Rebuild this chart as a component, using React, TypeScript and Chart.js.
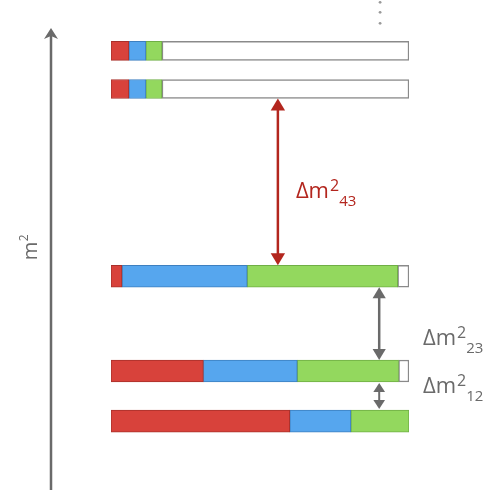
import React, { useEffect, useRef } from "react";
import { Chart, registerables } from "chart.js";

Chart.register(...registerables);

// mass-squared levels (bottom to top)
const levels = [12.8, 23.7, 44.3, 85, 93.3];
// flavour fractions of each mass state
const redFrac = [0.6, 0.31, 0.037, 0.06, 0.06];
const blueFrac = [0.205, 0.315, 0.42, 0.057, 0.057];
const greenFrac = [0.195, 0.34, 0.505, 0.054, 0.054];
const rowGroup = ["low", "low", "low", "high", "high"];
const splitLabels = ["Δm", "2", "43"];
const lowLabels = [
  ["Δm", "2", "23"],
  ["Δm", "2", "12"],
];
const axisLabel = "m";

const RED = "#d8423b";
const BLUE = "#56a6ee";
const GREEN = "#93d85e";
const WHITE = "#ffffff";
const FONT = "'Open Sans', 'DejaVu Sans', sans-serif";

function segs(group: string) {
  const out: { red: any[]; blue: any[]; green: any[]; white: any[] } = { red: [], blue: [], green: [], white: [] };
  levels.forEach((lv, i) => {
    if (rowGroup[i] !== group) return;
    const r = redFrac[i];
    const b = r + blueFrac[i];
    const g = b + greenFrac[i];
    out.red.push({ y: lv, x: [0, r] });
    out.blue.push({ y: lv, x: [r, b] });
    out.green.push({ y: lv, x: [b, g] });
    if (g < 0.999) out.white.push({ y: lv, x: [g, 1] });
  });
  return out;
}

function drawDoubleArrow(ctx: CanvasRenderingContext2D, x: number, y1: number, y2: number, color: string, head: number, width: number, spread = 0.6) {
  ctx.save();
  ctx.strokeStyle = color;
  ctx.fillStyle = color;
  ctx.lineWidth = width;
  ctx.beginPath();
  ctx.moveTo(x, y1 + head * 0.8);
  ctx.lineTo(x, y2 - head * 0.8);
  ctx.stroke();
  ctx.beginPath();
  ctx.moveTo(x, y1);
  ctx.lineTo(x - head * spread, y1 + head);
  ctx.lineTo(x + head * spread, y1 + head);
  ctx.closePath();
  ctx.fill();
  ctx.beginPath();
  ctx.moveTo(x, y2);
  ctx.lineTo(x - head * spread, y2 - head);
  ctx.lineTo(x + head * spread, y2 - head);
  ctx.closePath();
  ctx.fill();
  ctx.restore();
}

function drawDm(ctx: CanvasRenderingContext2D, parts: string[], x: number, y: number, color: string) {
  ctx.save();
  ctx.fillStyle = color;
  ctx.textBaseline = "alphabetic";
  ctx.textAlign = "left";
  ctx.font = "22px " + FONT;
  ctx.fillText(parts[0], x, y);
  const w = ctx.measureText(parts[0]).width;
  ctx.font = "16px " + FONT;
  ctx.fillText(parts[1], x + w + 1, y - 7);
  const w2 = ctx.measureText(parts[1]).width;
  ctx.font = "15px " + FONT;
  ctx.fillText(parts[2], x + w + 1 + w2, y + 8);
  ctx.restore();
}

function drawAxis(ctx: CanvasRenderingContext2D, x: number, y1: number, y2: number, color: string) {
  ctx.save();
  ctx.strokeStyle = color;
  ctx.fillStyle = color;
  ctx.lineWidth = 2.5;
  ctx.beginPath();
  ctx.moveTo(x, y1);
  ctx.lineTo(x, y2 + 6);
  ctx.stroke();
  ctx.beginPath();
  ctx.moveTo(x, y2);
  ctx.lineTo(x - 7, y2 + 11);
  ctx.lineTo(x, y2 + 8);
  ctx.lineTo(x + 7, y2 + 11);
  ctx.closePath();
  ctx.fill();
  ctx.restore();
}

const overlay = {
  id: "overlay",
  afterDraw(chart: any) {
    const ctx = chart.ctx as CanvasRenderingContext2D;
    const xs = chart.scales.x;
    const ys = chart.scales.y;
    const area = chart.chartArea;
    const hHigh = 19;
    const hLow = 22;
    const gray = "#6a6a6a";
    // axis arrow
    const ax = area.left - 60;
    drawAxis(ctx, ax, area.bottom + 10, area.top + 8, gray);
    ctx.save();
    ctx.translate(ax - 14, (area.top + area.bottom) / 2 + 1);
    ctx.rotate(-Math.PI / 2);
    ctx.fillStyle = gray;
    ctx.textAlign = "center";
    ctx.font = "20px " + FONT;
    ctx.fillText(axisLabel, 0, 0);
    const mw = ctx.measureText(axisLabel).width;
    ctx.font = "12px " + FONT;
    ctx.fillText("2", mw / 2 + 4, -9);
    ctx.restore();
    // red arrow between level 3 and 4
    const xr = xs.getPixelForValue(0.56);
    const top = ys.getPixelForValue(levels[3]) + hHigh / 2;
    const bot = ys.getPixelForValue(levels[2]) - hLow / 2;
    drawDoubleArrow(ctx, xr, top, bot, "#b3261e", 12, 2.5);
    drawDm(ctx, splitLabels, xr + 18, (top + bot) / 2 + 16, "#b3261e");
    // gray arrows
    const xg = xs.getPixelForValue(0.9);
    const xl = xs.getPixelForValue(1) + 14;
    const t2 = ys.getPixelForValue(levels[2]) + hLow / 2;
    const b2 = ys.getPixelForValue(levels[1]) - hLow / 2;
    drawDoubleArrow(ctx, xg, t2, b2, gray, 11, 2.5);
    drawDm(ctx, lowLabels[0], xl, b2 - 15, gray);
    const t1 = ys.getPixelForValue(levels[1]) + hLow / 2;
    const b1 = ys.getPixelForValue(levels[0]) - hLow / 2;
    drawDoubleArrow(ctx, xg, t1 + 1, b1 - 1, gray, 9, 2, 0.65);
    drawDm(ctx, lowLabels[1], xl, b1 - 17, gray);
    // ellipsis dots above top level
    ctx.save();
    ctx.fillStyle = "#999";
    const ex = xs.getPixelForValue(0.903);
    const ytop = ys.getPixelForValue(levels[4]) - hHigh / 2;
    [39, 29, 18].forEach((d) => {
      ctx.beginPath();
      ctx.arc(ex, ytop - d, 1.4, 0, Math.PI * 2);
      ctx.fill();
    });
    ctx.restore();
  },
};

export default function App() {
  const ref = useRef<HTMLCanvasElement>(null);
  useEffect(() => {
    document.body.style.margin = "0";
    const lo = segs("low");
    const hi = segs("high");
    const mk = (data: any[], color: string, border: string, thick: number) => ({
      data,
      backgroundColor: color,
      borderColor: border,
      borderWidth: 1,
      borderSkipped: false,
      barThickness: thick,
      grouped: false,
    });
    const chart = new Chart(ref.current!, {
      type: "bar",
      data: {
        datasets: [
          mk(lo.red, RED, "#a8302b", 22),
          mk(lo.blue, BLUE, "#3d7fbf", 22),
          mk(lo.green, GREEN, "#6fae45", 22),
          { ...mk(lo.white, WHITE, "#8a8a8a", 22), borderWidth: 1.5 },
          mk(hi.red, RED, "#a8302b", 19),
          mk(hi.blue, BLUE, "#3d7fbf", 19),
          mk(hi.green, GREEN, "#6fae45", 19),
          { ...mk(hi.white, WHITE, "#8a8a8a", 19), borderWidth: 1.5 },
        ] as any,
      },
      options: {
        indexAxis: "y",
        animation: false,
        responsive: false,
        layout: { padding: { left: 111, right: 91, top: 20, bottom: 22 } },
        scales: {
          x: { type: "linear", min: 0, max: 1, display: false, offset: false },
          y: { type: "linear", min: 0, max: 100, display: false, offset: false },
        },
        plugins: { legend: { display: false }, tooltip: { enabled: false } },
      },
      plugins: [overlay],
    });
    return () => chart.destroy();
  }, []);
  return (
    <div style={{ width: 500, height: 502, background: "#fff" }}>
      <canvas ref={ref} width={500} height={502} />
    </div>
  );
}
